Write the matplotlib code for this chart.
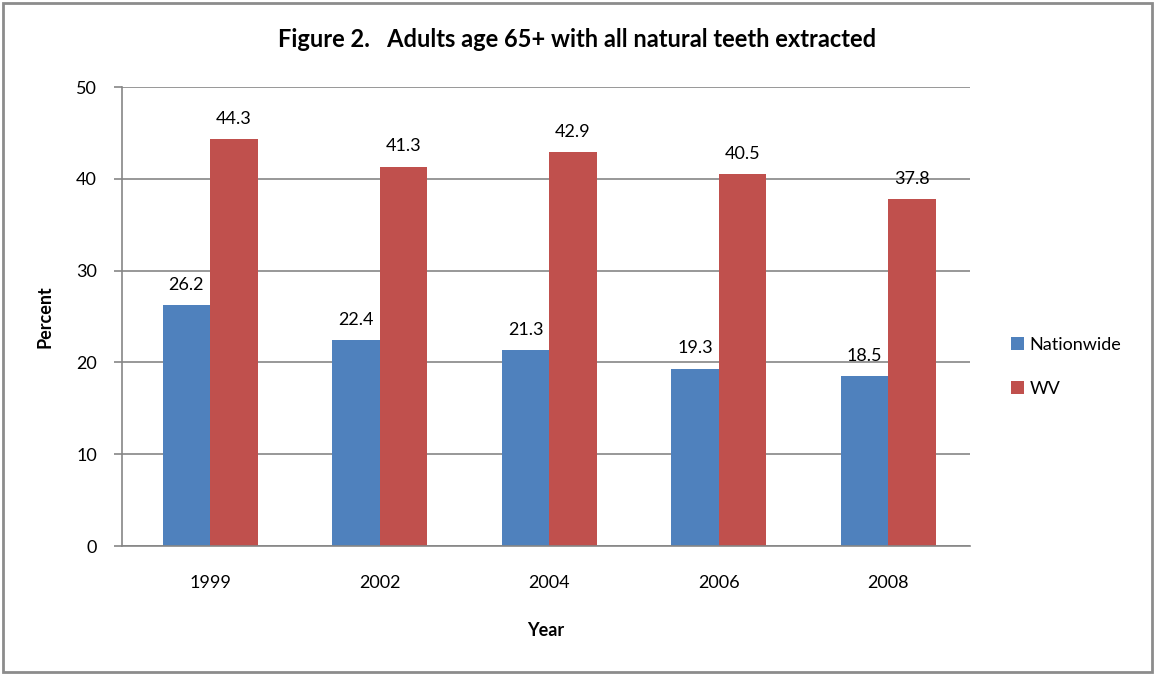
import matplotlib.pyplot as plt
import numpy as np
from matplotlib.patches import Rectangle

plt.rcParams['font.family'] = ['Lato', 'DejaVu Sans']

# data
years = ['1999', '2002', '2004', '2006', '2008']
nationwide = [26.2, 22.4, 21.3, 19.3, 18.5]
wv = [44.3, 41.3, 42.9, 40.5, 37.8]

BLUE = '#4f81bd'
RED = '#c0504d'
GRID = '#868686'

fig = plt.figure(figsize=(11.55, 6.75), dpi=100)
ax = fig.add_axes([0.1056, 0.1911, 0.734, 0.68])

x = np.arange(len(years))
w = 0.28
b1 = ax.bar(x - w / 2 + 0.02, nationwide, w, color=BLUE, label='Nationwide', zorder=2)
b2 = ax.bar(x + w / 2 + 0.02, wv, w, color=RED, label='WV', zorder=2)

for bars, vals in ((b1, nationwide), (b2, wv)):
    for rect, v in zip(bars, vals):
        ax.annotate(f'{v:.1f}', (rect.get_x() + rect.get_width() / 2, v),
                    xytext=(0, 9), textcoords='offset points',
                    ha='center', va='bottom', fontsize=13)

ax.set_xlim(-0.5, len(years) - 0.5)
ax.set_ylim(0, 50)
ax.set_yticks(range(0, 51, 10))
ax.set_xticks(x + 0.02)
ax.set_xticklabels(years)
ax.tick_params(axis='x', length=0, pad=21, labelsize=13)
ax.tick_params(axis='y', length=6, color=GRID, width=1.2, pad=12, labelsize=13)
ax.yaxis.grid(True, color=GRID, linewidth=1.2, zorder=0)
ax.set_axisbelow(True)
for s in ('top', 'right'):
    ax.spines[s].set_visible(False)
for s in ('left', 'bottom'):
    ax.spines[s].set_color(GRID)
    ax.spines[s].set_linewidth(1.2)

ax.set_ylabel('Percent', fontsize=13, fontweight='bold', labelpad=16)
ax.set_xlabel('Year', fontsize=13, fontweight='bold', labelpad=22)
fig.text(0.5, 0.942, 'Figure 2.   Adults age 65+ with all natural teeth extracted',
         ha='center', va='center', fontsize=17, fontweight='bold')

leg = ax.legend(loc='center left', bbox_to_anchor=(1.03, 0.39), frameon=False,
                fontsize=13, handlelength=0.7, handleheight=0.7,
                handletextpad=0.3, labelspacing=1.55)

fig.add_artist(Rectangle((0.003, 0.004), 0.994, 0.992, transform=fig.transFigure,
                         fill=False, edgecolor='#8c8c8c', linewidth=2))

fig.savefig('out.png', dpi=100)
